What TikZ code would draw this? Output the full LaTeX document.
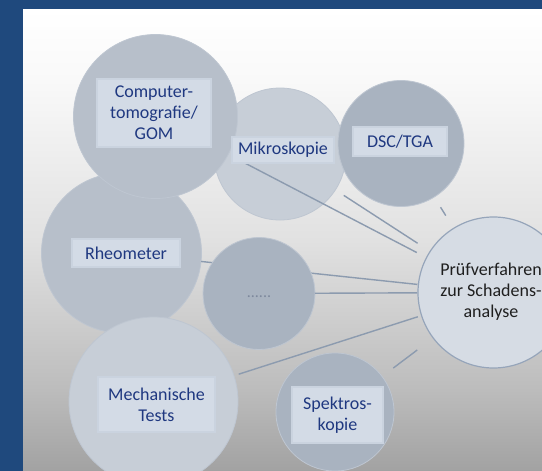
\documentclass[tikz,border=0pt]{standalone}
\usepackage{fontspec}
\setmainfont{Carlito}
\definecolor{frame}{RGB}{31,73,125}
\definecolor{txt}{RGB}{31,56,128}
\definecolor{cmid}{RGB}{183,191,202}
\definecolor{clight}{RGB}{199,206,215}
\definecolor{cdark}{RGB}{169,179,192}
\definecolor{cedge}{RGB}{190,198,209}
\definecolor{chub}{RGB}{214,220,228}
\definecolor{hubedge}{RGB}{150,165,186}
\definecolor{conn}{RGB}{140,155,175}
\definecolor{boxfill}{RGB}{211,219,230}
\definecolor{boxedge}{RGB}{202,211,223}
\definecolor{dotc}{RGB}{125,136,156}
\definecolor{bgA}{RGB}{249,249,249}
\definecolor{bgB}{RGB}{225,225,225}
\definecolor{bgC}{RGB}{188,188,188}
\definecolor{bgD}{RGB}{162,162,162}
\begin{document}
\begin{tikzpicture}[x=1pt,y=-1pt,
  circ/.style={circle, inner sep=0pt, outer sep=0pt, draw=cedge, line width=0.8pt},
  lbl/.style={fill=boxfill, draw=boxedge, line width=1.5pt, text=txt, align=center,
    inner sep=0pt, font=\fontsize{18}{21}\selectfont},
  conline/.style={draw=conn, line width=1.4pt}]
\useasboundingbox (0,0) rectangle (542,471);
\clip (0,0) rectangle (542,471);
% frame and background
\fill[frame] (0,0) rectangle (542,471);
\shade[top color=white, bottom color=bgA] (23,9) rectangle (542,80.5);
\shade[top color=bgA, bottom color=bgB] (23,80) rectangle (542,240.5);
\shade[top color=bgB, bottom color=bgC] (23,240) rectangle (542,390.5);
\shade[top color=bgC, bottom color=bgD] (23,390) rectangle (542,471);
% circles
\node[circ, fill=clight, minimum size=132pt] (mik) at (280,154) {};
\node[circ, fill=cdark, minimum size=126pt] (dsc) at (401,143.5) {};
\node[circ, fill=cmid, minimum size=160pt] (rheo) at (121.5,253) {};
\node[circ, fill=cmid, minimum size=164pt] (ct) at (155.5,116.5) {};
\node[circ, fill=clight, minimum size=169pt] (mt) at (153.5,401.5) {};
\node[circ, fill=cdark, minimum size=118pt] (spek) at (335,412) {};
\node[circ, fill=chub, draw=hubedge, line width=1.2pt, minimum size=151pt] (hub) at (493.5,292.5) {};
% connectors
\draw[conline, shorten <=10pt, shorten >=11pt] (ct) -- (hub);
\draw[conline, shorten <=10pt, shorten >=15pt] (mik) -- (hub);
\draw[conline, shorten <=12pt, shorten >=15pt] (dsc) -- (hub);
\draw[conline, shorten >=1pt] (rheo) -- (hub);
\node[circ, fill=cdark, minimum size=112pt] (dots) at (259,293.5) {};
\draw[conline, shorten >=1pt] (dots) -- (hub);
\draw[conline, shorten <=5pt, shorten >=4pt] (mt) -- (hub);
\draw[conline, shorten <=14pt, shorten >=20pt] (spek) -- (hub);
% labels
\node[lbl, minimum width=114pt, minimum height=68pt] (ctl) at (154,113) {Computer-\\tomografie/\\GOM};
\node[lbl, minimum width=102pt, minimum height=26pt] (mikl) at (283,150) {Mikroskopie};
\node[lbl, minimum width=94pt, minimum height=29pt] (dscl) at (400,141.5) {DSC/TGA};
\node[lbl, minimum width=108pt, minimum height=28pt] (rheol) at (126,253) {Rheometer};
\node[lbl, minimum width=117pt, minimum height=55pt] (mtl) at (156.5,404.5) {Mechanische\\Tests};
\node[lbl, minimum width=91pt, minimum height=56pt] (spekl) at (337.5,415) {Spektros-\\kopie};
\node[text=dotc, font=\fontsize{16}{18}\selectfont, inner sep=0pt] (dotl) at (259,297) {......};
\node[text=black!88, align=center, inner sep=0pt, font=\fontsize{18}{21}\selectfont] (hubl) at (491,292) {Prüfverfahren\\zur Schadens-\\analyse};
\end{tikzpicture}
\end{document}
